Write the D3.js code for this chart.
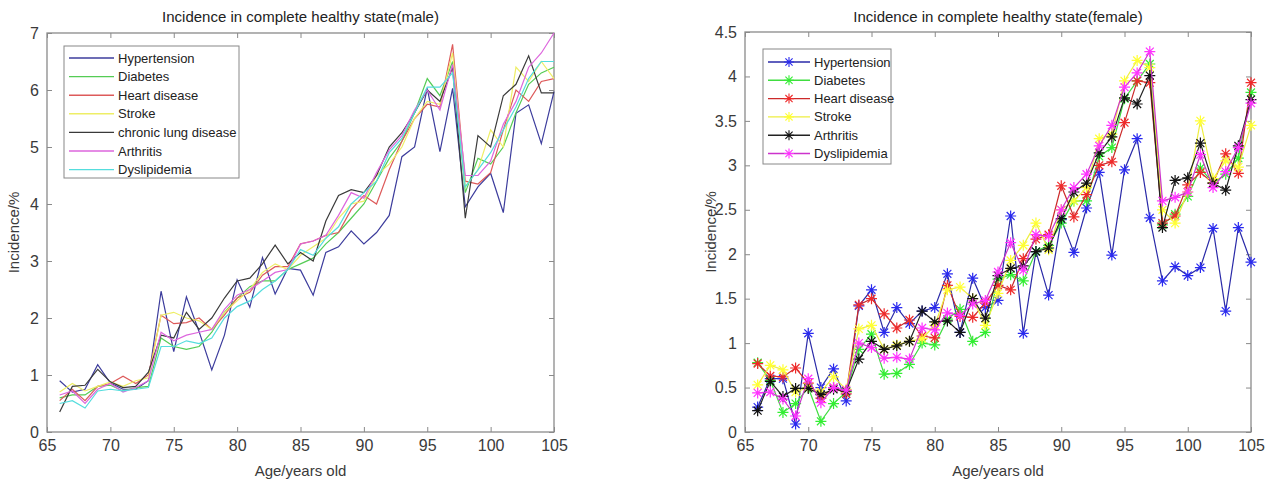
<!DOCTYPE html>
<html lang="en">
<head>
<meta charset="UTF-8">
<title>Incidence in complete healthy state</title>
<style>
  body { margin: 0; background: #fff; }
  svg { display: block; font-family: "Liberation Sans", Arial, sans-serif; }
</style>
</head>
<body>
<script src="https://cdn.jsdelivr.net/npm/d3@7/dist/d3.min.js"></script>
<script>
const ages = d3.range(66, 106);

// male, incidence in %
const maleNames = ["Hypertension", "Diabetes", "Heart disease", "Stroke", "chronic lung disease", "Arthritis", "Dyslipidemia"];
const maleHypertension = [0.9,0.7,0.75,1.18,0.86,0.75,0.75,0.9,2.47,1.41,2.37,1.76,1.09,1.7,2.67,2.19,3.06,2.42,2.87,2.84,2.4,3.15,3.25,3.53,3.3,3.5,3.8,4.83,5.0,6.03,4.92,6.03,3.95,4.3,4.54,3.85,5.59,5.74,5.06,5.97];
const maleDiabetes = [0.6,0.65,0.65,0.8,0.82,0.72,0.78,0.8,1.65,1.5,1.45,1.5,1.75,2.1,2.35,2.55,2.65,2.65,2.85,2.95,3.05,3.3,3.5,3.75,4.0,4.4,4.8,5.1,5.6,6.2,5.9,6.5,4.2,4.8,4.7,5.0,5.6,6.1,6.3,6.4];
const maleHeart = [0.55,0.75,0.55,0.8,0.85,0.98,0.85,1.0,2.05,1.9,1.92,2.0,1.8,2.05,2.35,2.45,2.75,2.9,2.9,3.3,3.35,3.45,3.5,3.9,4.15,4.0,4.6,5.1,5.5,5.75,5.7,6.8,4.4,4.35,4.55,5.3,6.0,5.8,6.15,6.2];
const maleStroke = [0.7,0.85,0.72,0.8,0.88,0.8,0.9,0.95,2.05,2.1,2.0,1.95,1.8,2.1,2.3,2.5,2.8,2.95,2.85,3.1,3.25,3.4,3.75,4.0,4.05,4.5,4.7,5.0,5.5,5.8,5.75,6.65,4.3,4.6,5.3,5.0,6.4,6.15,6.5,6.2];
const maleLung = [0.35,0.8,0.82,1.1,0.88,0.78,0.8,1.05,1.7,1.65,2.1,1.8,2.0,2.35,2.65,2.7,2.95,3.28,2.95,3.15,3.0,3.7,4.15,4.25,4.2,4.5,5.0,5.25,5.6,6.0,5.8,6.4,3.75,5.2,5.0,5.9,6.1,6.6,5.95,5.95];
const maleArthritis = [0.65,0.72,0.5,0.75,0.85,0.7,0.78,0.9,1.75,1.6,1.7,1.75,1.8,2.15,2.4,2.5,2.65,2.8,2.85,3.3,3.35,3.45,3.8,4.2,4.1,4.55,4.95,5.2,5.65,6.0,5.65,6.45,4.5,4.5,4.75,5.4,5.8,6.4,6.65,7.0];
const maleDyslipidemia = [0.5,0.55,0.42,0.72,0.75,0.72,0.75,0.78,1.5,1.5,1.6,1.55,1.65,2.0,2.2,2.3,2.5,2.65,2.85,3.2,3.1,3.4,3.6,4.0,4.2,4.4,4.9,5.15,5.6,6.05,6.05,6.3,4.3,4.6,4.9,5.3,5.7,6.2,6.5,6.5];
const maleSeries = [maleHypertension, maleDiabetes, maleHeart, maleStroke, maleLung, maleArthritis, maleDyslipidemia];
const maleColors = ["#3c3c9c", "#55cc55", "#dd5a5a", "#eeee66", "#3a3a3a", "#dd66dd", "#55dddd"];

// female, incidence in %
const femaleNames = ["Hypertension", "Diabetes", "Heart disease", "Stroke", "Arthritis", "Dyslipidemia"];
const femaleHypertension = [0.28,0.6,0.6,0.09,1.11,0.5,0.71,0.35,1.42,1.6,1.12,1.4,1.22,1.36,1.4,1.78,1.12,1.73,1.4,1.48,2.43,1.11,2.03,1.54,2.39,2.02,2.52,2.92,1.99,2.95,3.3,2.41,1.7,1.86,1.76,1.85,2.29,1.36,2.3,1.91];
const femaleDiabetes = [0.78,0.58,0.22,0.32,0.5,0.12,0.32,0.45,0.93,1.1,0.65,0.66,0.76,1.0,0.98,1.27,1.38,1.02,1.12,1.72,1.77,1.7,2.03,2.1,2.35,2.6,2.6,3.1,3.2,3.75,3.95,4.14,2.33,2.45,2.65,2.97,2.8,2.9,3.08,3.82];
const femaleHeart = [0.77,0.63,0.62,0.72,0.55,0.38,0.5,0.43,1.43,1.5,1.33,1.17,1.26,1.08,1.06,1.65,1.3,1.29,1.45,1.65,1.6,1.95,2.17,2.22,2.77,2.42,2.67,3.0,3.04,3.48,3.95,3.93,2.35,2.43,2.78,2.92,2.8,3.13,2.91,3.93];
const femaleStroke = [0.53,0.75,0.7,0.45,0.5,0.45,0.62,0.48,1.16,1.2,0.93,0.98,1.02,1.05,1.2,1.6,1.63,1.5,1.2,1.56,1.93,2.1,2.35,2.05,2.5,2.6,2.75,3.3,3.35,3.95,4.18,4.1,2.5,2.35,2.7,3.5,2.85,3.05,2.98,3.45];
const femaleArthritis = [0.24,0.57,0.4,0.49,0.49,0.42,0.48,0.46,0.82,1.02,0.93,0.97,1.02,1.36,1.24,1.25,1.12,1.5,1.28,1.76,1.84,1.87,2.03,2.07,2.4,2.7,2.8,3.14,3.32,3.76,3.69,4.01,2.3,2.83,2.86,3.25,2.8,2.72,3.22,3.74];
const femaleDyslipidemia = [0.44,0.45,0.37,0.18,0.6,0.33,0.5,0.47,1.0,0.95,0.83,0.84,0.82,1.17,1.15,1.34,1.31,1.44,1.48,1.8,2.13,1.82,2.22,2.2,2.5,2.75,2.9,3.22,3.45,3.88,4.04,4.28,2.6,2.64,2.7,3.12,2.75,2.93,3.2,3.7];
const femaleSeries = [femaleHypertension, femaleDiabetes, femaleHeart, femaleStroke, femaleArthritis, femaleDyslipidemia];
const femaleLineColors = ["#2a2aa8", "#40dd40", "#cc2a2a", "#eeee40", "#222222", "#cc33cc"];
const femaleMarkColors = ["#2a2aee", "#33ee33", "#ee2a2a", "#ffff33", "#111111", "#ff33ff"];

const xTicks = [65, 70, 75, 80, 85, 90, 95, 100, 105];
const maleYTicks = [0, 1, 2, 3, 4, 5, 6, 7];
const femaleYTicks = [0, 0.5, 1, 1.5, 2, 2.5, 3, 3.5, 4, 4.5];

const svg = d3.select("body").append("svg")
    .attr("width", 1269)
    .attr("height", 483);

svg.append("rect").attr("width", 1269).attr("height", 483).attr("fill", "#fff");

function star(r) {
    const d = r * 0.72;
    return `M${-r},0H${r}M0,${-r}V${r}M${-d},${-d}L${d},${d}M${-d},${d}L${d},${-d}`;
}

function panel(opt) {
    const x = d3.scaleLinear().domain([65, 105]).range([opt.left, opt.right]);
    const y = d3.scaleLinear().domain([0, opt.ymax]).range([opt.bottom, opt.top]);
    const g = svg.append("g");
    const tickLen = 5;
    const axisColor = "#8a8a8a";

    // inward ticks on all four sides
    const axes = [
        [d3.axisBottom(x).tickValues(opt.xticks), `translate(0,${opt.bottom})`, true],
        [d3.axisTop(x).tickValues(opt.xticks), `translate(0,${opt.top})`, false],
        [d3.axisLeft(y).tickValues(opt.yticks), `translate(${opt.left},0)`, true],
        [d3.axisRight(y).tickValues(opt.yticks), `translate(${opt.right},0)`, false]
    ];
    axes.forEach(([ax, tr, labels]) => {
        const a = g.append("g").attr("transform", tr)
            .call(ax.tickSizeInner(-tickLen).tickSizeOuter(0).tickPadding(labels ? 8 : 0)
                .tickFormat(labels ? d3.format("") : ""));
        a.select(".domain").remove();
        a.selectAll("line").attr("stroke", axisColor);
        a.selectAll("text").attr("fill", "#3a3a3a").style("font-size", "16px")
            .style("font-family", "\"Liberation Sans\", Arial, sans-serif");
    });
    g.append("rect")
        .attr("x", opt.left).attr("y", opt.top)
        .attr("width", opt.right - opt.left).attr("height", opt.bottom - opt.top)
        .attr("fill", "none").attr("stroke", axisColor).attr("stroke-width", 1.3);

    const line = d3.line().x((d, i) => x(ages[i])).y(d => y(d));
    opt.series.forEach((s, k) => {
        g.append("path").datum(s)
            .attr("d", line)
            .attr("fill", "none")
            .attr("stroke", opt.lineColors[k])
            .attr("stroke-width", 1.2);
        if (opt.markers) {
            g.append("g").selectAll("path").data(s).join("path")
                .attr("transform", (d, i) => `translate(${x(ages[i])},${y(d)})`)
                .attr("d", star(5.5))
                .attr("stroke", opt.markColors[k])
                .attr("stroke-width", 1.2)
                .attr("fill", "none");
        }
    });

    const cx = (opt.left + opt.right) / 2;
    g.append("text").attr("x", cx).attr("y", 22)
        .attr("text-anchor", "middle").attr("fill", "#222").style("font-size", "15px")
        .text(opt.title);
    g.append("text").attr("x", cx).attr("y", 476)
        .attr("text-anchor", "middle").attr("fill", "#3a3a3a").style("font-size", "15px")
        .text("Age/years old");
    g.append("text")
        .attr("transform", `translate(${opt.left - 24 - opt.ylabOff},${(opt.top + opt.bottom) / 2}) rotate(-90)`)
        .attr("text-anchor", "middle").attr("fill", "#3a3a3a").style("font-size", "15px")
        .text("Incidence/%");

    // legend
    const lg = opt.legend;
    g.append("rect")
        .attr("x", lg.x).attr("y", lg.y).attr("width", lg.w).attr("height", lg.h)
        .attr("fill", "#fff").attr("stroke", "#888").attr("stroke-width", 1);
    opt.names.forEach((n, k) => {
        const yy = lg.y + lg.first + k * lg.step;
        g.append("line")
            .attr("x1", lg.x + 5).attr("x2", lg.x + 5 + lg.len)
            .attr("y1", yy).attr("y2", yy)
            .attr("stroke", opt.lineColors[k]).attr("stroke-width", 1.4);
        if (opt.markers) {
            g.append("path")
                .attr("transform", `translate(${lg.x + 5 + lg.len / 2},${yy})`)
                .attr("d", star(5))
                .attr("stroke", opt.markColors[k]).attr("stroke-width", 1.1).attr("fill", "none");
        }
        g.append("text")
            .attr("x", lg.x + lg.len + 9).attr("y", yy + 4.5)
            .attr("fill", "#222").style("font-size", "13px")
            .text(n);
    });
}

panel({
    left: 47, right: 554, top: 33, bottom: 432, ymax: 7,
    xticks: xTicks, yticks: maleYTicks, ylabOff: 4,
    series: maleSeries, lineColors: maleColors, names: maleNames, markers: false,
    title: "Incidence in complete healthy state(male)",
    legend: { x: 64, y: 46, w: 175, h: 132, first: 12, step: 18.6, len: 45 }
});

panel({
    left: 745, right: 1251, top: 32, bottom: 432, ymax: 4.5,
    xticks: xTicks, yticks: femaleYTicks, ylabOff: 5,
    series: femaleSeries, lineColors: femaleLineColors, markColors: femaleMarkColors,
    names: femaleNames, markers: true,
    title: "Incidence in complete healthy state(female)",
    legend: { x: 763, y: 49, w: 128, h: 115, first: 13, step: 18.3, len: 42 }
});
</script>
</body>
</html>
